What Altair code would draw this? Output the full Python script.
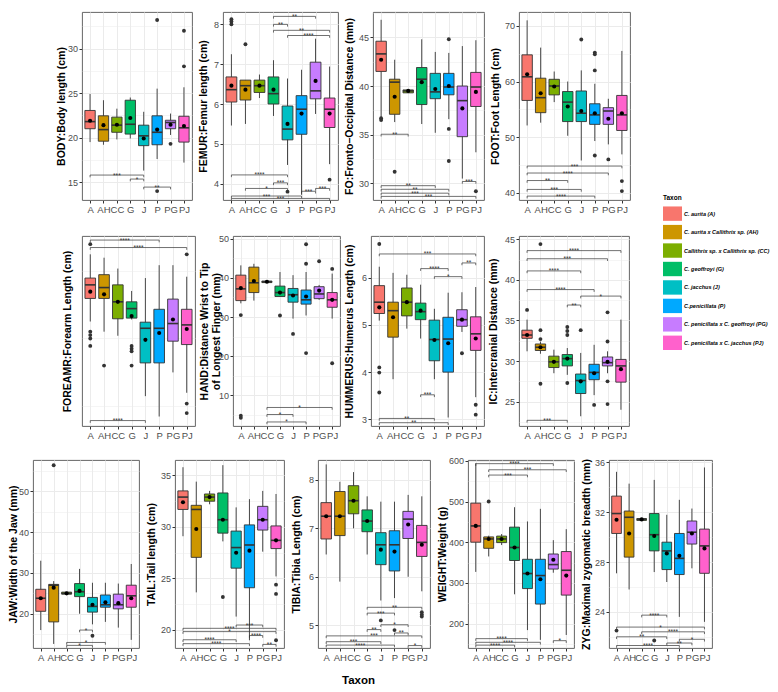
import json
import altair as alt
import pandas as pd

TAXA = ["A", "AH", "CC", "G", "J", "P", "PG", "PJ"]
COLORS = ["#F8766D", "#CD9600", "#7CAE00", "#00BE67", "#00BFC4", "#00A9FF", "#C77CFF", "#FF61CC"]
LEGEND_TITLE = "Taxon"
LEGEND_LABELS = [
    "C. aurita (A)",
    "C. aurita x Callithrix sp. (AH)",
    "Callithrix sp. x Callithrix sp. (CC)",
    "C. geoffroyi (G)",
    "C. jacchus (J)",
    "C.penicillata (P)",
    "C. penicillata x C. geoffroyi (PG)",
    "C. penicillata x C. jacchus (PJ)",
]

# box stats per taxon: (whisker low, Q1, median, Q3, whisker high, mean)
BODY_BOX = [(19.5, 21.0, 21.8, 23.05, 24.9, 21.9), (19.2, 19.6, 20.9, 22.45, 24.2, 21.4),
            (19.8, 20.6, 21.4, 22.3, 23.25, 21.45), (19.9, 20.4, 21.5, 24.2, 24.5, 22.2),
            (16.3, 19.1, 20.2, 21.4, 22.9, 19.9), (17.6, 19.2, 20.6, 22.45, 25.5, 20.9),
            (20.3, 21.0, 21.7, 21.95, 22.7, 21.45), (17.2, 19.5, 21.1, 22.4, 25.65, 21.3)]
BODY_OUT = [("P", 33.2), ("P", 14.0), ("PG", 19.3), ("PJ", 32.0), ("PJ", 28.0)]
BODY_SIG = [("A", "J", 15.8, "***"), ("G", "J", 15.35, "*"), ("J", "PG", 14.45, "**")]
BODY_TICKS = [15, 20, 25, 30]
BODY_MINOR = [17.5, 22.5, 27.5, 32.5]

FEMUR_BOX = [(5.46, 6.05, 6.36, 6.68, 7.25, 6.46), (5.5, 6.1, 6.46, 6.6, 6.6, 6.36),
             (6.15, 6.29, 6.46, 6.6, 6.74, 6.46), (5.7, 6.0, 6.26, 6.68, 7.1, 6.36),
             (4.47, 5.1, 5.37, 5.95, 6.64, 5.5), (3.72, 5.24, 5.87, 6.21, 6.86, 5.76),
             (5.75, 6.13, 6.33, 7.05, 7.64, 6.58), (4.49, 5.41, 5.87, 6.15, 6.94, 5.76)]
FEMUR_OUT = [("A", 8.13), ("A", 8.07), ("A", 8.0), ("AH", 7.5), ("J", 3.8), ("PJ", 4.1)]
FEMUR_SIG = [("G", "PG", 8.2, "**"), ("G", "J", 8.0, "**"), ("G", "PJ", 7.85, "**"),
             ("J", "PJ", 7.72, "****"), ("A", "J", 4.22, "****"), ("G", "J", 4.02, "***"),
             ("AH", "J", 3.88, "*"), ("P", "PG", 3.81, "***"), ("PG", "PJ", 3.88, "***"),
             ("A", "P", 3.69, "***"), ("A", "PJ", 3.63, "***")]
FEMUR_TICKS = [4, 5, 6, 7, 8]
FEMUR_MINOR = [4.5, 5.5, 6.5, 7.5]

FO_BOX = [(36.8, 41.5, 43.3, 44.6, 46.8, 42.7), (36.3, 37.1, 40.4, 40.7, 42.7, 38.9),
          (39.3, 39.3, 39.5, 39.6, 39.6, 39.5), (36.1, 38.1, 40.7, 41.9, 44.8, 40.4),
          (35.2, 38.7, 39.4, 41.3, 43.5, 39.7), (36.6, 39.1, 39.9, 41.3, 43.4, 40.0),
          (30.5, 34.8, 38.5, 40.0, 44.1, 37.7), (33.2, 37.9, 39.9, 41.4, 44.7, 39.4)]
FO_OUT = [("A", 36.7), ("A", 36.5), ("AH", 31.2), ("P", 44.8), ("P", 35.6), ("P", 32.3), ("PJ", 29.2)]
FO_SIG = [("A", "CC", 35.05, "**"), ("PG", "PJ", 30.2, "***"), ("A", "J", 29.77, "**"),
          ("A", "P", 29.4, "**"), ("A", "P", 29.0, "***"), ("A", "PJ", 28.67, "***")]
FO_TICKS = [30, 35, 40, 45]
FO_MINOR = [32.5, 37.5, 42.5, 47.5]

FOOT_BOX = [(52.1, 56.6, 60.85, 64.8, 71.0, 61.3), (52.6, 54.4, 57.1, 60.6, 66.1, 57.9),
            (56.3, 57.6, 59.2, 60.4, 61.8, 59.1), (50.25, 52.8, 56.3, 58.2, 60.0, 55.5),
            (45.8, 52.8, 54.3, 58.3, 62.0, 54.7), (49.3, 52.3, 54.0, 56.0, 59.6, 54.3),
            (48.7, 52.3, 54.7, 55.3, 56.9, 53.3), (46.9, 51.2, 54.0, 57.5, 65.5, 54.3)]
FOOT_OUT = [("J", 67.55), ("P", 65.2), ("P", 64.9), ("P", 62.0), ("P", 46.7), ("PG", 46.0),
            ("PJ", 42.1), ("PJ", 40.3)]
FOOT_SIG = [("A", "PJ", 44.8, "***"), ("A", "PG", 43.55, "****"), ("A", "G", 42.2, "**"),
            ("A", "J", 40.6, "***"), ("A", "P", 39.4, "****")]
FOOT_TICKS = [40, 50, 60, 70]
FOOT_MINOR = [45, 55, 65]

FORE_BOX = [(4.75, 5.09, 5.29, 5.39, 5.74, 5.19), (4.6, 5.09, 5.25, 5.44, 5.69, 5.15),
            (4.54, 4.79, 5.04, 5.29, 5.53, 5.04), (4.78, 4.8, 4.94, 5.04, 5.2, 4.83),
            (3.65, 4.14, 4.65, 4.74, 5.39, 4.48), (3.35, 4.14, 4.65, 4.93, 5.58, 4.58),
            (4.0, 4.46, 4.72, 5.08, 5.58, 4.78), (3.7, 4.41, 4.7, 4.93, 5.41, 4.64)]
FORE_OUT = [("A", 5.89), ("A", 4.6), ("A", 4.55), ("A", 4.5), ("A", 4.39), ("AH", 4.1),
            ("G", 4.39), ("G", 4.35), ("G", 4.31), ("G", 4.1), ("PJ", 5.74), ("PJ", 3.54), ("PJ", 3.4)]
FORE_SIG = [("A", "P", 5.95, "****"), ("A", "PJ", 5.84, "****"), ("A", "J", 3.29, "****")]
FORE_TICKS = [4, 5, 6]
FORE_MINOR = [3.5, 4.5, 5.5]

HAND_BOX = [(33.5, 34.2, 37.2, 40.7, 43.2, 37.4), (34.2, 36.25, 38.75, 42.75, 43.6, 39.2),
            (39.0, 38.8, 39.0, 39.2, 39.0, 39.0), (35.25, 35.25, 36.25, 37.9, 41.5, 36.25),
            (29.6, 33.8, 35.7, 37.3, 40.7, 35.5), (30.4, 33.3, 34.4, 36.9, 41.5, 35.25),
            (34.4, 34.7, 35.9, 37.75, 38.2, 36.75), (29.6, 32.5, 34.4, 36.25, 41.1, 34.4)]
HAND_OUT = [("A", 30.5), ("A", 4.8), ("A", 4.25), ("G", 30.4), ("J", 25.7), ("P", 48.6),
            ("P", 43.6), ("P", 20.8), ("PG", 44.25), ("PJ", 42.3), ("PJ", 18.2)]
HAND_SIG = [("CC", "PJ", 6.9, "*"), ("CC", "J", 5.1, "*"), ("CC", "P", 3.2, "*")]
HAND_TICKS = [10, 20, 30, 40, 50]
HAND_MINOR = [5, 15, 25, 35, 45]

HUM_BOX = [(5.09, 5.24, 5.48, 5.83, 6.23, 5.37), (3.85, 4.74, 5.3, 5.48, 6.1, 5.16),
           (4.92, 5.19, 5.48, 5.78, 6.06, 5.48), (4.71, 5.11, 5.28, 5.46, 5.85, 5.3),
           (3.85, 4.24, 4.69, 5.1, 5.34, 4.68), (3.04, 4.0, 4.7, 5.16, 5.68, 4.61),
           (4.85, 4.97, 5.11, 5.32, 5.69, 5.11), (3.47, 4.46, 4.81, 5.17, 5.8, 4.71)]
HUM_OUT = [("A", 6.71), ("A", 4.1), ("A", 3.99), ("A", 3.57), ("PG", 4.4), ("PJ", 3.31), ("PJ", 3.1)]
HUM_SIG = [("A", "PJ", 6.5, "***"), ("PG", "PJ", 6.31, "**"), ("G", "P", 6.19, "****"),
           ("J", "PG", 6.02, "*"), ("G", "J", 3.52, "***"), ("A", "J", 3.02, "**"), ("A", "P", 2.93, "**")]
HUM_TICKS = [3, 4, 5, 6]
HUM_MINOR = [3.5, 4.5, 5.5, 6.5]

IC_BOX = [(31.2, 32.8, 33.2, 33.8, 35.1, 33.2), (30.9, 31.3, 31.7, 32.1, 32.4, 31.7),
          (28.5, 29.2, 29.9, 30.6, 31.4, 29.9), (28.3, 29.4, 30.3, 30.8, 31.6, 30.3),
          (23.2, 26.0, 27.6, 28.4, 31.0, 27.5), (25.8, 27.7, 28.6, 29.6, 32.0, 28.5),
          (28.5, 29.4, 29.8, 30.5, 31.2, 29.9), (24.0, 27.4, 29.4, 30.2, 35.1, 29.0)]
IC_OUT = [("A", 36.3), ("AH", 44.4), ("AH", 33.8), ("AH", 32.7), ("AH", 27.2), ("G", 34.2),
          ("G", 33.7), ("G", 33.2), ("G", 27.3), ("J", 33.8), ("P", 24.6), ("PG", 36.0),
          ("PG", 32.4), ("PG", 27.5), ("PG", 24.7)]
IC_SIG = [("A", "PJ", 43.6, "****"), ("A", "PG", 42.6, "***"), ("A", "J", 41.1, "****"),
          ("A", "P", 38.8, "****"), ("J", "PJ", 38.0, "*"), ("G", "J", 36.9, "**"), ("A", "G", 22.7, "***")]
IC_TICKS = [25, 30, 35, 40, 45]
IC_MINOR = [22.5, 27.5, 32.5, 37.5, 42.5]

JAW_BOX = [(16.0, 20.6, 23.8, 26.0, 33.0, 23.8), (12.6, 18.0, 27.0, 27.2, 28.0, 26.4),
           (24.8, 24.8, 25.0, 25.3, 25.3, 25.0), (20.0, 24.2, 25.4, 27.4, 31.0, 25.6),
           (17.4, 20.4, 21.8, 24.0, 27.6, 22.2), (18.0, 21.6, 22.2, 24.6, 27.6, 22.8),
           (16.6, 21.2, 22.2, 24.8, 27.4, 22.6), (13.6, 21.6, 24.4, 27.0, 32.2, 23.8)]
JAW_OUT = [("AH", 56.4), ("J", 14.6)]
JAW_SIG = [("G", "J", 16.0, "*"), ("CC", "P", 12.96, "*"), ("CC", "J", 12.24, "*")]
JAW_TICKS = [20, 30, 40, 50]
JAW_MINOR = [15, 25, 35, 45, 55]

TAIL_BOX = [(29.1, 31.7, 32.9, 33.5, 35.8, 32.4), (23.65, 27.05, 31.7, 32.1, 34.4, 29.8),
            (32.2, 32.5, 32.9, 33.2, 33.5, 32.9), (28.6, 29.4, 30.7, 33.3, 36.0, 30.7),
            (21.3, 26.0, 28.0, 29.6, 31.9, 27.5), (19.0, 24.1, 28.25, 30.2, 32.7, 27.7),
            (27.6, 29.7, 30.7, 32.0, 33.5, 30.7), (25.2, 27.9, 28.7, 30.1, 33.2, 28.7)]
TAIL_OUT = [("G", 23.2), ("PJ", 24.4), ("PJ", 23.5), ("PJ", 19.0)]
TAIL_SIG = [("J", "PG", 20.48, "***"), ("A", "PJ", 20.16, "****"), ("A", "PJ", 19.84, "*"),
            ("P", "PG", 19.46, "****"), ("A", "J", 19.05, "****"), ("A", "P", 18.67, "****"),
            ("PG", "PJ", 18.6, "**")]
TAIL_TICKS = [20, 25, 30, 35]
TAIL_MINOR = [22.5, 27.5, 32.5]

TIBIA_BOX = [(6.46, 6.78, 7.25, 7.53, 8.32, 7.25), (5.9, 6.85, 7.25, 7.76, 7.96, 7.25),
             (7.0, 7.3, 7.57, 7.88, 8.16, 7.57), (6.46, 6.93, 7.15, 7.38, 7.66, 7.15),
             (5.51, 6.25, 6.66, 6.91, 7.55, 6.56), (5.56, 6.12, 6.66, 6.95, 7.55, 6.52),
             (6.0, 6.79, 7.19, 7.35, 7.69, 7.08), (5.7, 6.42, 6.71, 7.06, 7.66, 6.66)]
TIBIA_OUT = [("J", 5.1), ("P", 4.9), ("PJ", 5.27), ("PJ", 5.22), ("PJ", 5.18)]
TIBIA_SIG = [("G", "PJ", 5.37, "**"), ("G", "P", 5.25, "***"), ("J", "PG", 5.01, "*"),
             ("G", "J", 4.91, "**"), ("P", "PG", 4.84, "**"), ("A", "PJ", 4.78, "***"),
             ("A", "J", 4.66, "***"), ("A", "P", 4.59, "****"), ("PG", "PJ", 4.58, "*")]
TIBIA_TICKS = [5, 6, 7, 8]
TIBIA_MINOR = [5.5, 6.5, 7.5]

WEIGHT_BOX = [(327, 400, 440, 496, 594, 440), (365, 385, 408, 413, 416, 408),
              (393, 399, 408, 415, 420, 408), (272, 355, 387, 437, 486, 387),
              (184, 286, 323, 358, 451, 323), (160, 248, 318, 358, 482, 309),
              (325, 334, 345, 371, 405, 357), (172, 270, 331, 377, 432, 318)]
WEIGHT_OUT = [("AH", 500)]
WEIGHT_SIG = [("A", "PG", 593, "****"), ("AH", "PJ", 578, "***"), ("AH", "J", 565, "***"),
              ("A", "J", 163, "****"), ("PG", "PJ", 158, "*"), ("A", "P", 154, "****"),
              ("A", "G", 147, "****")]
WEIGHT_TICKS = [200, 300, 400, 500, 600]
WEIGHT_MINOR = [150, 250, 350, 450, 550]

ZYG_BOX = [(27.1, 30.3, 31.9, 33.3, 35.25, 31.4), (25.8, 28.4, 31.6, 32.1, 34.3, 30.3),
           (31.35, 31.35, 31.43, 31.5, 31.5, 31.43), (27.2, 28.9, 30.2, 31.9, 34.6, 30.1),
           (26.4, 27.4, 28.9, 29.6, 31.8, 28.7), (23.6, 27.0, 28.3, 30.3, 33.0, 28.5),
           (27.5, 29.45, 30.4, 31.3, 32.3, 30.3), (23.2, 27.1, 29.3, 30.65, 35.6, 29.1)]
ZYG_OUT = [("A", 22.5), ("G", 21.7)]
ZYG_SIG = [("CC", "J", 23.74, "****"), ("A", "PJ", 22.78, "*"), ("CC", "PJ", 22.4, "****"),
           ("A", "J", 22.0, "**"), ("P", "PJ", 21.8, "*"), ("J", "PG", 21.5, "**"),
           ("A", "P", 21.3, "****")]
ZYG_TICKS = [24, 28, 32, 36]
ZYG_MINOR = [22, 26, 30, 34]

FONT = "Liberation Sans"
INK = "#333333"
GRID = "#EBEBEB"
LABEL = "#4D4D4D"


def panel(box, outliers, sig, domain, majors, minors, title, width, height, ext, tpad,
          x_title=None, title_x=0):
    idx = {t: i for i, t in enumerate(TAXA)}
    stats = pd.DataFrame(box, columns=["lo", "q1", "med", "q3", "hi", "mean"])
    stats["taxon"] = TAXA
    stats["i"] = list(range(len(TAXA)))
    out = pd.DataFrame(outliers, columns=["taxon", "v"])
    out["i"] = out["taxon"].map(idx)
    sg = pd.DataFrame(sig, columns=["t1", "t2", "y", "label"])
    sg["i1"] = sg["t1"].map(idx)
    sg["i2"] = sg["t2"].map(idx)
    tip = (domain[1] - domain[0]) * 0.012

    test = "indexof(%s, datum.value) >= 0" % json.dumps(majors)
    xs = alt.Scale(domain=[-0.6, 7.6], nice=False, zero=False)
    ys = alt.Scale(domain=list(domain), nice=False, zero=False)
    xkw = dict(values=list(range(len(TAXA))), labelExpr="%s[datum.value]" % json.dumps(TAXA),
               grid=True, gridColor=GRID, gridWidth=1, tickSize=3, tickColor=INK,
               labelFontSize=9.5, labelColor=LABEL, labelPadding=1.5, labelOverlap=False,
               labelFlush=False, domain=False, labelAngle=0, title=x_title)
    if x_title:
        xkw.update(titleFontSize=11.5, titleFontWeight="bold", titleColor="black",
                   titleX=title_x, titleY=26, titleAnchor="middle")
    xaxis = alt.Axis(**xkw)
    yaxis = alt.Axis(values=sorted(majors + minors), format="d",
                     labelExpr="%s ? datum.label : ''" % test,
                     grid=True, gridColor=GRID,
                     gridWidth={"condition": {"test": test, "value": 1}, "value": 0.5},
                     tickOpacity={"condition": {"test": test, "value": 1}, "value": 0},
                     tickSize=3, tickColor=INK, labelFontSize=9, labelColor=LABEL,
                     labelPadding=1.5, labelOverlap=False, domain=False,
                     title=title, titleFontSize=10.5, titleFontWeight="bold",
                     titleColor="black", titlePadding=tpad, titleLineHeight=11.5,
                     minExtent=ext, maxExtent=ext)

    def X(f):
        return alt.X(f, scale=xs, axis=xaxis)

    def Y(f):
        return alt.Y(f, scale=ys, axis=yaxis)

    base = alt.Chart(stats)
    wide = base.transform_calculate(xa="datum.i - 0.385", xb="datum.i + 0.385")
    whisk = base.mark_rule(color=INK, strokeWidth=0.9).encode(x=X("i:Q"), y=Y("lo:Q"), y2="hi:Q")
    boxes = wide.mark_rect(stroke=INK, strokeWidth=0.9).encode(
        x=X("xa:Q"), x2="xb:Q", y=Y("q1:Q"), y2="q3:Q",
        color=alt.Color("taxon:N", scale=alt.Scale(domain=TAXA, range=COLORS), legend=None))
    med = wide.mark_rule(color=INK, strokeWidth=1.6).encode(x=X("xa:Q"), x2="xb:Q", y=Y("med:Q"))
    mean = base.mark_circle(size=17, color="black", opacity=1).encode(x=X("i:Q"), y=Y("mean:Q"))
    outs = alt.Chart(out).mark_circle(size=15, color=INK, opacity=1).encode(x=X("i:Q"), y=Y("v:Q"))
    sbase = alt.Chart(sg)
    line = sbase.mark_rule(color=INK, strokeWidth=0.7).encode(x=X("i1:Q"), x2="i2:Q", y=Y("y:Q"))
    tipl = sbase.transform_calculate(yb="datum.y - %f" % tip).mark_rule(
        color=INK, strokeWidth=0.7).encode(x=X("i1:Q"), y=Y("y:Q"), y2="yb:Q")
    tipr = sbase.transform_calculate(yb="datum.y - %f" % tip).mark_rule(
        color=INK, strokeWidth=0.7).encode(x=X("i2:Q"), y=Y("y:Q"), y2="yb:Q")
    txt = sbase.transform_calculate(m="(datum.i1 + datum.i2) / 2").mark_text(
        fontSize=6.5, baseline="alphabetic", dy=2.5, color=INK).encode(
        x=X("m:Q"), y=Y("y:Q"), text="label:N")
    return alt.layer(whisk, boxes, med, mean, outs, line, tipl, tipr, txt).properties(
        width=width, height=height)


H1, H2, H3 = 188, 190, 188

p_body = panel(BODY_BOX, BODY_OUT, BODY_SIG, (13.0, 34.1), BODY_TICKS, BODY_MINOR,
               "BODY:Body length (cm)", 110, H1, 14.5, 1)
p_femur = panel(FEMUR_BOX, FEMUR_OUT, FEMUR_SIG, (3.59, 8.31), FEMUR_TICKS, FEMUR_MINOR,
                "FEMUR:Femur length (cm)", 115, H1, 9.5, 5)
p_fo = panel(FO_BOX, FO_OUT, FO_SIG, (28.3, 47.6), FO_TICKS, FO_MINOR,
             "FO:Fronto\u2013Occipital Distance (mm)", 111, H1, 14.5, 4)
p_foot = panel(FOOT_BOX, FOOT_OUT, FOOT_SIG, (38.7, 72.5), FOOT_TICKS, FOOT_MINOR,
               "FOOT:Foot Length (cm)", 111, H1, 14.5, 4)

p_fore = panel(FORE_BOX, FORE_OUT, FORE_SIG, (3.21, 6.01), FORE_TICKS, FORE_MINOR,
               "FOREAMR:Forearm Length (cm)", 113, H2, 9.5, 0)
p_hand = panel(HAND_BOX, HAND_OUT, HAND_SIG, (2.17, 50.7), HAND_TICKS, HAND_MINOR,
               ["HAND:Distance Wrist to Tip", "of Longest Finger (mm)"], 107, H2, 12, 0)
p_hum = panel(HUM_BOX, HUM_OUT, HUM_SIG, (2.86, 6.88), HUM_TICKS, HUM_MINOR,
              "HUMMERUS:Humerus Length (cm)", 113, H2, 9.5, 7)
p_ic = panel(IC_BOX, IC_OUT, IC_SIG, (22.0, 45.4), IC_TICKS, IC_MINOR,
             "IC:Intercranial Distance (mm)", 110, H2, 14.5, 6)

p_jaw = panel(JAW_BOX, JAW_OUT, JAW_SIG, (11.6, 57.7), JAW_TICKS, JAW_MINOR,
              "JAW:Width of the Jaw (mm)", 106, H3, 14.5, 0)
p_tail = panel(TAIL_BOX, TAIL_OUT, TAIL_SIG, (18.25, 36.5), TAIL_TICKS, TAIL_MINOR,
               "TAIL:Tail length (cm)", 109, H3, 14.5, 4)
p_tibia = panel(TIBIA_BOX, TIBIA_OUT, TIBIA_SIG, (4.53, 8.41), TIBIA_TICKS, TIBIA_MINOR,
                "TIBIA:Tibia Length (cm)", 112, H3, 9.5, 7, x_title="Taxon", title_x=40)
p_weight = panel(WEIGHT_BOX, WEIGHT_OUT, WEIGHT_SIG, (140, 602), WEIGHT_TICKS, WEIGHT_MINOR,
                 "WEIGHT:Weight (g)", 106, H3, 19.5, 1)
p_zyg = panel(ZYG_BOX, ZYG_OUT, ZYG_SIG, (21.1, 36.2), ZYG_TICKS, ZYG_MINOR,
              "ZYG:Maximal zygomatic breadth (mm)", 103, H3, 14.5, 3)

NOFRAME = alt.ViewBackground(strokeOpacity=0)


def spacer(w, h):
    return alt.Chart(pd.DataFrame({"s": [0]})).mark_rect(opacity=0).encode(
        x=alt.value(0), x2=alt.value(w), y=alt.value(0), y2=alt.value(h)).properties(
        width=w, height=h, view=NOFRAME)


# legend: title row + one band per taxon, placed lower in a tall, frameless view
LEG_DOMAIN = [LEGEND_TITLE] + LEGEND_LABELS
LEG_X0 = 32
leg_df = pd.DataFrame({"label": LEGEND_LABELS})
leg_y = alt.Y("label:N", sort=LEG_DOMAIN, axis=None,
              scale=alt.Scale(domain=LEG_DOMAIN, range=[176, 338], paddingInner=0.22,
                              paddingOuter=0))
leg_rect = alt.Chart(leg_df).mark_rect().encode(
    x=alt.value(LEG_X0), x2=alt.value(LEG_X0 + 19), y=leg_y,
    color=alt.Color("label:N", scale=alt.Scale(domain=LEGEND_LABELS, range=COLORS), legend=None))
leg_text = alt.Chart(leg_df).mark_text(
    align="left", baseline="middle", fontSize=5.5, fontStyle="italic", fontWeight="bold",
    color="black").encode(x=alt.value(LEG_X0 + 21), y=leg_y, text="label:N")
leg_title = alt.Chart(pd.DataFrame({"label": [LEGEND_TITLE]})).mark_text(
    align="left", baseline="middle", fontSize=6.5, fontWeight="bold", color="black", dy=3
).encode(x=alt.value(LEG_X0), y=leg_y, text="label:N")
legend_unit = alt.layer(leg_title, leg_rect, leg_text).properties(
    width=115, height=340, view=NOFRAME)

row1 = alt.hconcat(p_body, p_femur, p_fo, p_foot, spacing=5)
row2 = alt.hconcat(p_fore, p_hand, p_hum, p_ic, spacing=3)
upper = alt.vconcat(row1, row2, spacing=19)
top = alt.hconcat(spacer(23, 1), upper, legend_unit, spacing=0)
row3 = alt.hconcat(p_jaw, p_tail, p_tibia, p_weight, p_zyg, spacing=6)

chart = alt.vconcat(top, row3, spacing=15).properties(padding=0).configure(
    font=FONT).configure_view(stroke="#555555", strokeWidth=0.9)

chart.save("out.html", embed_options={"renderer": "svg", "actions": False})
